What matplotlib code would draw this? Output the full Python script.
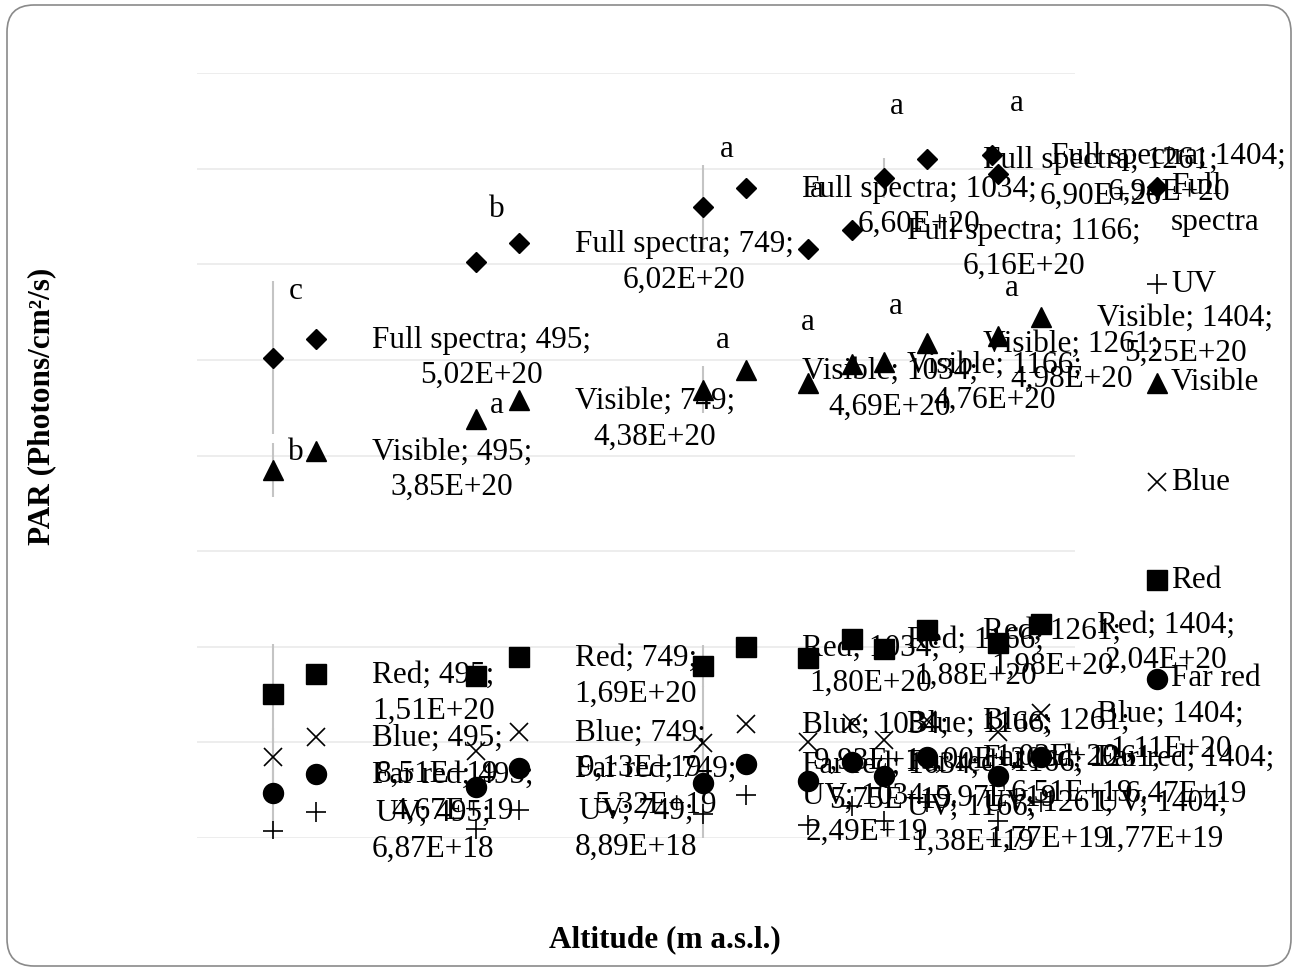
import matplotlib
matplotlib.use('Agg')
import matplotlib.pyplot as plt
from matplotlib.lines import Line2D
from matplotlib.patches import FancyBboxPatch
from matplotlib.transforms import IdentityTransform
import numpy as np

plt.rcParams['font.family'] = ['Liberation Serif', 'DejaVu Serif']

W, H, DPI = 1299, 967, 100
FS = 22.5

# ---------------- data ----------------
altitudes = [495, 749, 1034, 1166, 1261, 1404]
full_spectra = [5.02e20, 6.02e20, 6.60e20, 6.16e20, 6.90e20, 6.94e20]
visible = [3.85e20, 4.38e20, 4.69e20, 4.76e20, 4.98e20, 5.25e20]
red = [1.51e20, 1.69e20, 1.80e20, 1.88e20, 1.98e20, 2.04e20]
blue = [8.51e19, 9.13e19, 9.93e19, 1.00e20, 1.03e20, 1.11e20]
far_red = [4.67e19, 5.32e19, 5.75e19, 5.97e19, 6.51e19, 6.47e19]
uv = [6.87e18, 8.89e18, 2.49e19, 1.38e19, 1.77e19, 1.77e19]

# error bars (same units)
full_err = [0.80e20, 0, 0.44e20, 0, 0.21e20, 0]
visible_err = [0.28e20, 0, 0.25e20, 0, 0, 0]
red_err = [0.52e20, 0, 0.22e20, 0, 0, 0]
blue_err = [0.30e20, 0, 0.60e20, 0, 0, 0]
far_red_err = [0.30e20, 0, 0.40e20, 0, 0, 0]
uv_err = [0.10e20, 0, 0.30e20, 0, 0, 0]

# x values of the duplicate series on the secondary axes
alt_secondary = [495, 749, 1034, 1166, 1261, 1404]
alt_secondary_full = [495, 749, 1034, 1166, 1261, 1342]

# significance letters
letters_full = ['c', 'b', 'a', 'a', 'a', 'a']
letters_full_x = [524, 776, 1064, 1177, 1277, 1427]
letters_full_y = [5.71e20, 6.57e20, 7.20e20, 6.78e20, 7.65e20, 7.68e20]
letters_vis = ['b', 'a', 'a', 'a', 'a', 'a']
letters_vis_x = [524, 776, 1059, 1165, 1276, 1421]
letters_vis_y = [4.03e20, 4.52e20, 5.20e20, 5.39e20, 5.56e20, 5.75e20]

series_names = ['Full spectra', 'Visible', 'Red', 'Blue', 'Far red', 'UV']
legend_order = ['Full spectra', 'UV', 'Visible', 'Blue', 'Red', 'Far red']
legend_labels = {'Full spectra': 'Full\nspectra'}

# ---------------- styles ----------------
values = {'Full spectra': full_spectra, 'Visible': visible, 'Red': red,
          'Blue': blue, 'Far red': far_red, 'UV': uv}
errors = {'Full spectra': full_err, 'Visible': visible_err, 'Red': red_err,
          'Blue': blue_err, 'Far red': far_red_err, 'UV': uv_err}
sec_x = {'Full spectra': alt_secondary_full}
mstyle = {'Full spectra': dict(marker='D', ms=10.2),
          'Visible': dict(marker='^', ms=14.4),
          'Red': dict(marker='s', ms=14.0),
          'Blue': dict(marker='x', ms=13.5, mew=1.2),
          'Far red': dict(marker='o', ms=14.4),
          'UV': dict(marker='+', ms=14.5, mew=1.2)}


def fmt(v):
    return f"{v:.2E}".replace('.', ',')


fig = plt.figure(figsize=(W / DPI, H / DPI), dpi=DPI)
rect = [197 / W, (H - 838) / H, (1075 - 197) / W, (838 - 73) / H]
ax = fig.add_axes(rect)
ax.set_xlim(400, 1500)
ax.set_ylim(0, 8e20)
ax.set_yticks(np.arange(0, 8.01e20, 1e20))
ax.set_xticks([])
for s in ax.spines.values():
    s.set_visible(False)
ax.tick_params(left=False, bottom=False, labelleft=False, labelbottom=False)
ax.grid(axis='y', color='#ededed', lw=1.4)
ax.set_axisbelow(True)

ax2 = fig.add_axes(rect)
ax2.set_xlim(346, 1446)
ax2.set_ylim(-0.2e20, 7.8e20)
ax2.axis('off')
ax2.patch.set_visible(False)

for name in series_names:
    v = values[name]
    ax.errorbar(altitudes, v, yerr=errors[name], fmt='none', ecolor='#c4c4c4',
                elinewidth=1.5, capsize=0, zorder=2)
for name in series_names:
    v = values[name]
    st = mstyle[name]
    ax.plot(altitudes, v, ls='none', color='black', mfc='black', mec='black', zorder=3, **st)
    ax2.plot(sec_x.get(name, alt_secondary), v, ls='none', color='black',
             mfc='black', mec='black', zorder=3, **st)

anns = []
for name in series_names:
    for a, v in zip(altitudes, values[name]):
        t = ax.annotate(f"{name}; {a};\n{fmt(v)}", xy=(a, v), xytext=(99, 0),
                        textcoords='offset pixels', ha='left', va='center',
                        multialignment='center', fontsize=FS, linespacing=1.3,
                        annotation_clip=False, zorder=4)
        anns.append(t)

for L, x, y in zip(letters_full, letters_full_x, letters_full_y):
    ax.text(x, y, L, ha='center', va='center', fontsize=FS, zorder=4)
for L, x, y in zip(letters_vis, letters_vis_x, letters_vis_y):
    ax.text(x, y, L, ha='center', va='center', fontsize=FS, zorder=4)

# axis titles
fig.text(665 / W, 1 - 940 / H, 'Altitude (m a.s.l.)', ha='center', va='center',
         fontsize=FS, fontweight='bold')
fig.text(42 / W, 1 - 406 / H, 'PAR (Photons/cm²/s)', ha='center', va='center',
         rotation=90, fontsize=FS, fontweight='bold')

# legend (drawn manually, Excel style)
leg_y = [187, 284, 383, 482, 580, 679]
for name, yy in zip(legend_order, leg_y):
    st = mstyle[name]
    fig.add_artist(Line2D([1157 / W], [1 - yy / H], transform=fig.transFigure,
                          ls='none', color='black', mfc='black', mec='black', **st))
    lab = legend_labels.get(name, name)
    ty = yy + (17.5 if '\n' in lab else 0)
    fig.text(1171 / W, 1 - ty / H, lab, ha='left', va='center', fontsize=FS,
             linespacing=1.3)

# chart border
fig.add_artist(FancyBboxPatch((7, 1), 1284, 961,
                              boxstyle='round,pad=0,rounding_size=27',
                              transform=IdentityTransform(), fill=False,
                              ec='#8a8a8a', lw=1.2))

# keep labels inside chart area (as Excel does)
fig.canvas.draw()
r = fig.canvas.get_renderer()
for t in anns:
    bb = t.get_window_extent(r)
    if bb.x1 > 1286:
        t.xyann = (99 - (bb.x1 - 1286), 0)

fig.savefig('out.png', dpi=DPI)
